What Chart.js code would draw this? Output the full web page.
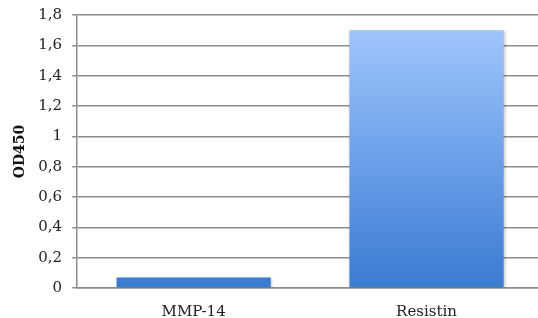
<!DOCTYPE html>
<html>
<head>
<meta charset="utf-8">
<script src="https://cdn.jsdelivr.net/npm/chart.js@4/dist/chart.umd.min.js"></script>
<style>
  html, body { margin: 0; padding: 0; background: #fff; overflow: hidden; }
  #wrap { width: 543px; height: 340px; margin-top: -4px; }
</style>
</head>
<body>
<div id="wrap"><canvas id="odChart"></canvas></div>
<script>
const categories = ["MMP-14", "Resistin"];
const odValues = [0.07, 1.70];
const yTicks = [0, 0.2, 0.4, 0.6, 0.8, 1, 1.2, 1.4, 1.6, 1.8];

function mix(a, b, t) {
  const out = a.map((v, i) => Math.round(v + (b[i] - v) * t));
  return `rgb(${out.join(",")})`;
}

// each bar gets its own vertical gradient, light on top, dark at the base;
// short bars get a softer version of it
const barLook = {
  id: "barLook",
  beforeDatasetsDraw(chart) {
    const ctx = chart.ctx;
    chart.getDatasetMeta(0).data.forEach(el => {
      const t = Math.min(1, Math.abs(el.base - el.y) / 120);
      const g = ctx.createLinearGradient(0, el.y, 0, el.base);
      g.addColorStop(0, mix([122, 170, 240], [159, 197, 254], t));
      g.addColorStop(1, mix([92, 144, 224], [58, 123, 211], t));
      el.options.backgroundColor = g;
    });
    ctx.save();
    ctx.shadowColor = "rgba(0,0,0,0.25)";
    ctx.shadowBlur = 3;
    ctx.shadowOffsetX = 1;
    ctx.shadowOffsetY = 1;
  },
  afterDatasetsDraw(chart) {
    chart.ctx.restore();
  }
};

let context = document.getElementById("odChart").getContext("2d");
let myChart = new Chart(context, {
  type: "bar",
  data: {
    labels: categories,
    datasets: [
      {
        data: odValues,
        backgroundColor: "#6a9ee8",
        borderWidth: 0,
        categoryPercentage: 1,
        barPercentage: 0.662
      }
    ]
  },
  options: {
    responsive: true,
    maintainAspectRatio: false,
    animation: false,
    layout: { padding: { top: 0, right: 0, left: 11.5, bottom: 0 } },
    plugins: {
      legend: { display: false },
      tooltip: { enabled: false }
    },
    scales: {
      x: {
        grid: { display: false, drawTicks: false },
        border: { color: "#8c8c8c", width: 1.5 },
        ticks: {
          color: "#222",
          font: { family: "DejaVu Serif", size: 15 },
          padding: 15
        }
      },
      y: {
        min: 0,
        max: 1.8,
        afterBuildTicks(axis) {
          axis.ticks = yTicks.map(v => ({ value: v }));
        },
        grid: {
          color: "#8c8c8c",
          lineWidth: 1.5,
          tickLength: 5,
          drawTicks: true
        },
        border: { color: "#8c8c8c", width: 1.5 },
        ticks: {
          color: "#222",
          font: { family: "DejaVu Serif", size: 15 },
          padding: 10,
          callback: v => String(Math.round(v * 10) / 10).replace(".", ",")
        },
        title: {
          display: true,
          text: "OD450",
          color: "#111",
          font: { family: "DejaVu Serif", size: 14, weight: "bold" },
          padding: 0
        }
      }
    }
  },
  plugins: [barLook]
});
</script>
</body>
</html>
